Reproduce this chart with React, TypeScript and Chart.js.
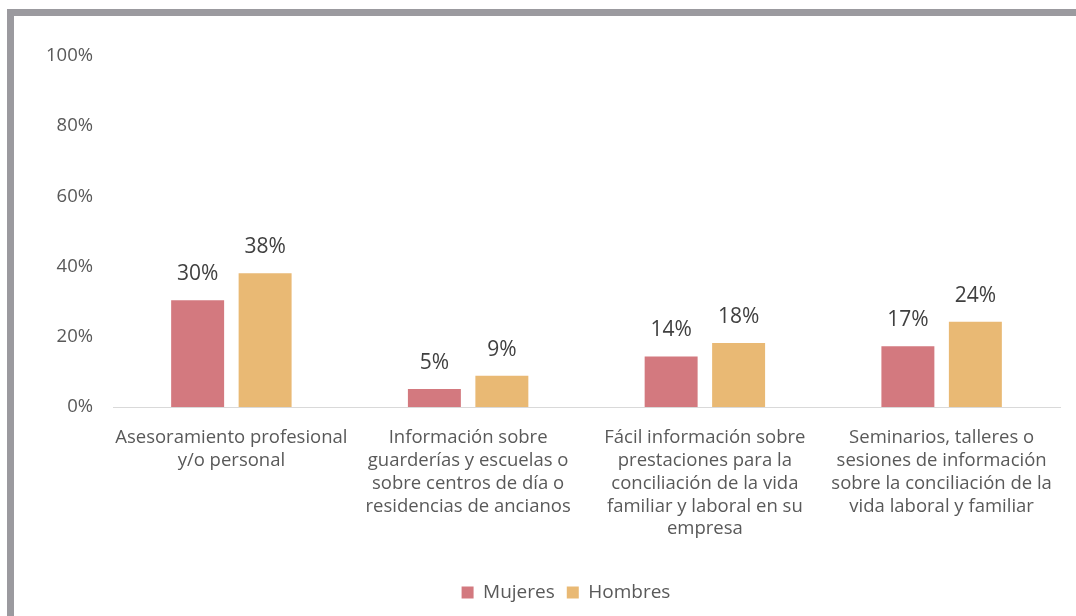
import React, { useEffect, useRef } from "react";
import { Chart, registerables } from "chart.js";

Chart.register(...registerables);

const categories: string[][] = [
  ["Asesoramiento profesional", "y/o personal"],
  ["Información sobre", "guarderías y escuelas o", "sobre centros de día o", "residencias de ancianos"],
  ["Fácil información sobre", "prestaciones para la", "conciliación de la vida", "familiar y laboral en su", "empresa"],
  ["Seminarios, talleres o", "sesiones de información", "sobre la conciliación de la", "vida laboral y familiar"],
];
const mujeres = [30.4, 5.1, 14.4, 17.3];
const hombres = [38.1, 8.9, 18.2, 24.3];
const seriesNames = ["Mujeres", "Hombres"];
const colors = ["#d3797f", "#e9b974"];

const FONT = "'Open Sans', sans-serif";

const valueLabels = {
  id: "valueLabels",
  afterDatasetsDraw(chart: any) {
    const ctx = chart.ctx;
    ctx.save();
    ctx.font = `21px ${FONT}`;
    ctx.fillStyle = "#404040";
    ctx.textAlign = "center";
    ctx.textBaseline = "middle";
    chart.data.datasets.forEach((ds: any, i: number) => {
      const meta = chart.getDatasetMeta(i);
      meta.data.forEach((bar: any, j: number) => {
        ctx.fillText(`${Math.round(ds.data[j])}%`, bar.x, bar.y - 26);
      });
    });
    ctx.restore();
  },
};

const legendShift = {
  id: "legendShift",
  afterLayout(chart: any) {
    if (chart.legend) {
      chart.legend.left += 26;
      chart.legend.right += 26;
    }
  },
};

export default function App() {
  const ref = useRef<HTMLCanvasElement>(null);
  useEffect(() => {
    if (!ref.current) return;
    const chart = new Chart(ref.current, {
      type: "bar",
      data: {
        labels: categories,
        datasets: [
          { label: seriesNames[0], data: mujeres, backgroundColor: colors[0] },
          { label: seriesNames[1], data: hombres, backgroundColor: colors[1] },
        ],
      },
      options: {
        responsive: false,
        animation: false,
        devicePixelRatio: 1,
        layout: { padding: { left: 20, right: 16, top: 56, bottom: 4 } },
        datasets: {
          bar: { categoryPercentage: 0.57, barPercentage: 0.785 },
        },
        plugins: {
          legend: {
            position: "bottom",
            labels: {
              boxWidth: 12,
              boxHeight: 12,
              padding: 12,
              color: "#595959",
              font: { family: FONT, size: 19 },
            },
          },
          tooltip: { enabled: false },
        },
        scales: {
          x: {
            grid: { display: false, drawTicks: false },
            border: { display: true, color: "#d9d9d9", width: 1 },
            ticks: {
              color: "#595959",
              padding: 19,
              maxRotation: 0,
              autoSkip: false,
              font: { family: FONT, size: 18.5, lineHeight: 1.24 },
            },
            afterFit: (scale: any) => {
              scale.height = 164;
            },
          },
          y: {
            min: 0,
            max: 100,
            grid: { display: false, drawTicks: false },
            border: { display: false },
            ticks: {
              stepSize: 20,
              padding: 20,
              color: "#595959",
              font: { family: FONT, size: 18.5 },
              callback: (v: any) => `${v}%`,
            },
            afterFit: (scale: any) => {
              scale.width = 93;
            },
          },
        },
      },
      plugins: [valueLabels, legendShift],
    });
    return () => chart.destroy();
  }, []);
  return (
    <div style={{ position: "fixed", left: 0, top: 0, width: 1076, height: 616, background: "#fff", overflow: "hidden" }}>
      <div
        style={{
          position: "absolute",
          left: 7,
          top: 9,
          width: 1200,
          height: 800,
          borderTop: "7px solid #9b9a9f",
          borderLeft: "7px solid #9b9a9f",
        }}
      />
      <canvas ref={ref} width={1076} height={616} style={{ position: "absolute", left: 0, top: 0 }} />
    </div>
  );
}
